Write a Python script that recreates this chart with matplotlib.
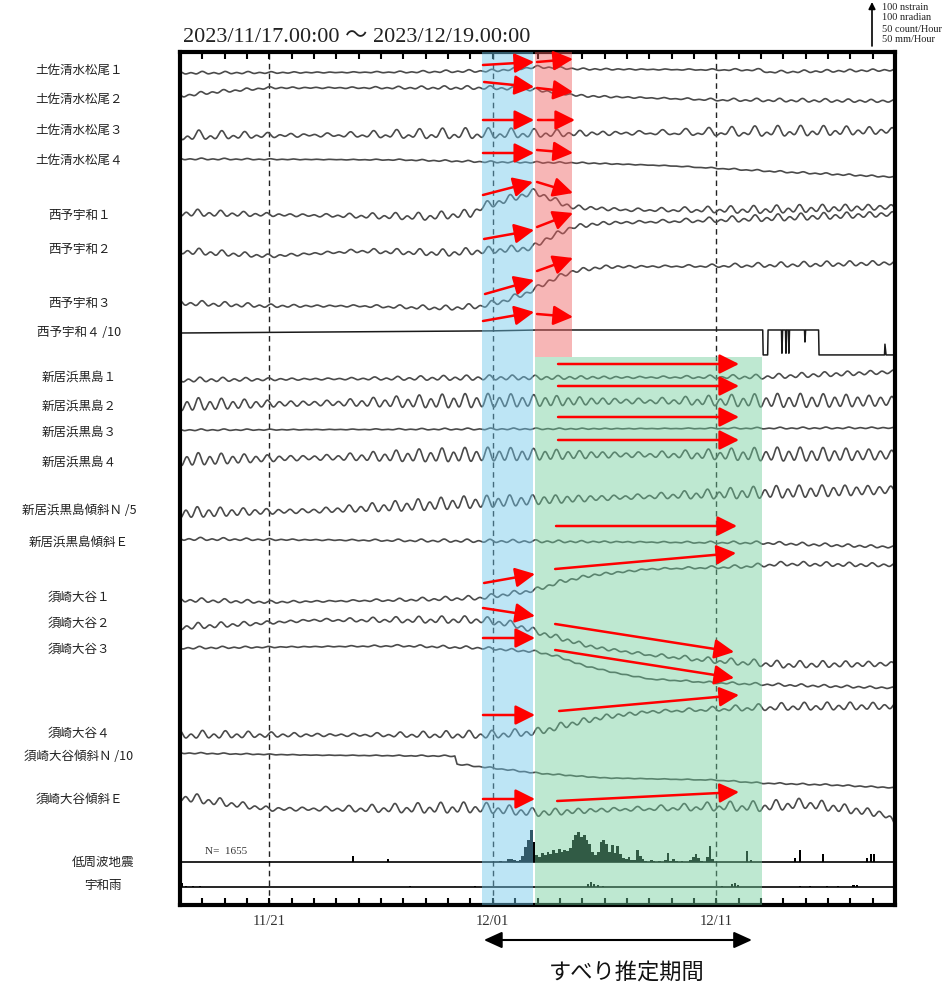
import numpy as np
import matplotlib.pyplot as plt

W, H = 946, 989
NS_PER_PX = 100 / 43      # scale bar: 100 nstrain ~ 43 px
PX_PER_COUNT = 43 / 50    # 50 count/Hour (and 50 mm/Hour) ~ 43 px

SANS = ["Noto Sans CJK JP", "DejaVu Sans"]
SERIF = ["Liberation Serif", "Noto Sans CJK JP"]

# ---- station labels ---------------------------------------------------------
LABELS = ["土佐清水松尾１", "土佐清水松尾２", "土佐清水松尾３", "土佐清水松尾４",
          "西予宇和１", "西予宇和２", "西予宇和３", "西予宇和４ /10",
          "新居浜黒島１", "新居浜黒島２", "新居浜黒島３", "新居浜黒島４",
          "新居浜黒島傾斜Ｎ /5", "新居浜黒島傾斜Ｅ",
          "須崎大谷１", "須崎大谷２", "須崎大谷３", "須崎大谷４",
          "須崎大谷傾斜Ｎ /10", "須崎大谷傾斜Ｅ"]

# ---- trend of each record (days since 2023/11/17 00:00, change in nstrain) --
MATSUO1_T = [0, 10, 14, 16, 18, 26, 26.3, 32]
MATSUO1_V = [0, 2, 5, 14, 9, 7, 2, 7]
MATSUO2_T = [0, 1.5, 4, 14, 16, 18, 24, 32]
MATSUO2_V = [0, 9, 19, 19, 14, 0, -9, -12]
MATSUO3_T = [0, 16, 32]
MATSUO3_V = [0, 5, 12]
MATSUO4_T = [0, 10, 14, 18, 22, 27, 32]
MATSUO4_V = [0, -2, -7, -9, -16, -30, -42]
SEIYO1_T = [0, 5, 11, 13, 13.5, 14.9, 15.9, 16.5, 17.5, 20, 26, 32]
SEIYO1_V = [0, -5, -9, -2, 14, 35, 49, 35, 14, 7, 7, 14]
SEIYO2_T = [0, 4, 8, 12, 13.5, 15.8, 16.2, 17, 17.6, 19, 24, 32]
SEIYO2_V = [0, -12, 0, -5, 0, 7, 23, 42, 56, 65, 72, 86]
SEIYO3_T = [0, 4, 8, 12, 13.5, 14.5, 15.5, 16, 16.5, 17.6, 19, 24, 32]
SEIYO3_V = [0, -7, -7, -12, -7, 5, 23, 35, 51, 74, 84, 86, 93]
SEIYO4_T = [0, 14, 16, 26.08, 26.1, 26.3, 26.32, 26.92, 26.94, 26.97, 27.1, 27.12,
            27.15, 27.23, 27.25, 27.28, 27.95, 27.97, 28.0, 28.58, 28.6, 31.53,
            31.55, 31.6, 32]
SEIYO4_V = [0, 5, 7, 7, -51, -51, 7, 7, -47, 7, 7, -47, 7, 7, -47, 7, 7, -21, 7, 7,
            -51, -51, -26, -51, -51]
NIIHAMA1_T = [0, 14, 26, 32]
NIIHAMA1_V = [0, 5, 7, 19]
NIIHAMA2_T = [0, 14, 32]
NIIHAMA2_V = [0, 9, 9]
NIIHAMA3_T = [0, 32]
NIIHAMA3_V = [0, 5]
NIIHAMA4_T = [0, 14, 32]
NIIHAMA4_V = [0, 12, 12]
NIIHAMA_TN_T = [0, 6, 12.6, 16, 26, 32]
NIIHAMA_TN_V = [0, 5, 23, 30, 47, 54]
NIIHAMA_TE_T = [0, 14, 26, 32]
NIIHAMA_TE_V = [0, -5, -9, -19]
SUSAKI1_T = [0, 4, 10, 13.5, 15.9, 17, 18.5, 21, 25, 27, 32]
SUSAKI1_V = [0, -5, 0, 5, 23, 42, 58, 72, 77, 84, 81]
SUSAKI2_T = [0, 3, 6, 13.5, 15, 16, 17, 18.5, 21, 24, 27, 32]
SUSAKI2_V = [0, 7, 16, 16, 5, -12, -26, -47, -65, -79, -88, -86]
SUSAKI3_T = [0, 10, 13.5, 16, 17, 18, 19.5, 21, 24, 27, 32]
SUSAKI3_V = [0, 5, 0, -9, -21, -40, -58, -72, -81, -86, -93]
SUSAKI4_T = [0, 10, 14, 16, 17.5, 19, 21, 24, 27, 32]
SUSAKI4_V = [0, 0, 0, 7, 26, 42, 54, 60, 65, 67]
SUSAKI_TN_T = [0, 6, 12.3, 12.4, 14, 16, 19, 24, 26, 29, 32]
SUSAKI_TN_V = [0, -5, -7, -26, -35, -47, -58, -63, -70, -74, -81]
SUSAKI_TE_T = [0, 2, 4, 8, 13.5, 16, 19, 24, 26, 28, 29.5, 31.5, 32]
SUSAKI_TE_V = [0, -14, -28, -28, -26, -37, -30, -23, -23, -16, -26, -40, -60]

# tidal amplitude (nstrain, semidiurnal part) and diurnal/semidiurnal ratio
TIDE_AMP = [1.5, 2, 5, 1, 4.5, 4, 3, 0, 3, 9, 1, 9, 8, 1.8, 2.5, 4, 1.5, 4.5, 0.8, 6]
TIDE_DIURNAL = [1, 1, 1.6, 1, 1, 1, 1, 1, 0.8, 0.6, 1, 0.6, 0.6, 1, 1, 1, 1, 1, 1, 1]
TIDE_PHASE = [0.3, 1.1, 2.0, 0.7, 2.6, 1.9, 0.4, 0, 1.5, 2.2, 0.9, 2.3, 2.8, 1.2,
              0.6, 2.4, 1.7, 0.2, 1.0, 2.9]

# ---- low frequency tremor (count/Hour, 3 h bins from day 14.28) and rain ----
LFE_START = 14.28
LFE_BIN = 0.125
LFE_COUNTS = [1, 0, 0, 3, 3, 2, 1, 2, 7, 17, 26, 37, 23, 8, 6, 10, 8, 12, 9, 14, 10,
              15, 12, 14, 13, 16, 26, 31, 35, 29, 31, 26, 21, 12, 8, 12, 23, 26, 21,
              12, 20, 10, 19, 9, 5, 3, 6, 2, 2, 14, 7, 3, 1, 0, 2, 1, 0, 1, 0, 2, 10,
              1, 3, 1, 0, 1, 0, 0, 2, 6, 9, 5, 1, 0, 6, 19, 3]
LFE_OTHER_DAYS = [7.74, 9.31, 25.38, 25.56, 27.53, 27.76, 28.78, 30.75, 30.93, 31.07]
LFE_OTHER_COUNTS = [7, 3, 13, 2, 5, 14, 9, 5, 9, 9]
RAIN_DAYS = [0.09, 0.27, 0.58, 0.9, 10.3, 13.2, 18.26, 18.4, 18.53, 18.71, 18.93,
             24.26, 24.71, 24.84, 24.98, 27.75, 28.2, 28.96, 29.45, 30.13, 30.3]
RAIN_MM = [5, 1, 1, 1, 1, 1, 3.5, 6, 3.5, 2, 1, 1, 3.5, 4.5, 2, 1, 1, 1, 1, 2, 2]

# ---- periods (days since 11/17) -------------------------------------------
BLUE_SPAN = (13.5, 15.8)
RED_SPAN = (15.9, 17.55)
GREEN_SPAN = (15.9, 26.05)
SLIP_PERIOD = (13.6, 25.6)
DATE_TICKS = [4, 14, 24]
DATE_LABELS = ["11/21", "12/01", "12/11"]

# red arrows: (day0, y0, day1, y1) on the record panel
ARROWS = [(13.56, 65, 15.85, 62), (15.98, 62, 17.59, 59),
          (13.61, 82, 15.85, 87), (15.98, 88, 17.59, 92),
          (13.56, 120, 15.85, 120), (16.02, 120, 17.68, 120),
          (13.56, 153, 15.85, 153), (15.98, 150, 17.59, 153),
          (13.56, 195, 15.80, 182), (15.98, 182, 17.59, 193),
          (13.61, 239, 15.85, 230), (15.98, 227, 17.59, 213),
          (13.65, 294, 15.85, 280), (15.98, 271, 17.59, 258),
          (13.56, 321, 15.85, 312), (15.98, 314, 17.59, 317),
          (16.92, 364, 25.02, 364), (16.92, 386, 25.02, 386),
          (16.92, 417, 25.02, 417), (16.92, 440, 25.02, 440),
          (16.83, 526, 24.93, 526), (16.79, 569, 24.89, 553),
          (13.61, 583, 15.89, 574), (13.56, 608, 15.89, 616),
          (16.79, 624, 24.80, 652), (13.56, 638, 15.89, 638),
          (16.79, 650, 24.80, 678), (13.56, 715, 15.89, 715),
          (16.97, 711, 25.02, 695), (13.56, 799, 15.89, 799),
          (16.88, 801, 25.02, 792)]

TRENDS = [(MATSUO1_T, MATSUO1_V), (MATSUO2_T, MATSUO2_V), (MATSUO3_T, MATSUO3_V),
          (MATSUO4_T, MATSUO4_V), (SEIYO1_T, SEIYO1_V), (SEIYO2_T, SEIYO2_V),
          (SEIYO3_T, SEIYO3_V), (SEIYO4_T, SEIYO4_V), (NIIHAMA1_T, NIIHAMA1_V),
          (NIIHAMA2_T, NIIHAMA2_V), (NIIHAMA3_T, NIIHAMA3_V), (NIIHAMA4_T, NIIHAMA4_V),
          (NIIHAMA_TN_T, NIIHAMA_TN_V), (NIIHAMA_TE_T, NIIHAMA_TE_V),
          (SUSAKI1_T, SUSAKI1_V), (SUSAKI2_T, SUSAKI2_V), (SUSAKI3_T, SUSAKI3_V),
          (SUSAKI4_T, SUSAKI4_V), (SUSAKI_TN_T, SUSAKI_TN_V), (SUSAKI_TE_T, SUSAKI_TE_V)]

# layout (pixel rows of the panel)
LABEL_Y = [70, 99, 130, 160, 215, 250, 303, 332, 377, 406, 432, 462, 511, 542,
           597, 623, 649, 733, 757, 799]
TRACE_Y0 = [73, 96, 136, 159, 213, 251, 303, 333, 380, 405, 430, 460, 513, 539,
            600, 627, 648, 735, 753, 797]
LFE_BASE, RAIN_BASE = 862, 887


def tide(t, amp, diurnal, phase):
    semi = np.cos(2 * np.pi * t / 0.5175 + phase) + 0.46 * np.cos(2 * np.pi * t / 0.5 + 1.3 * phase)
    day = 0.58 * np.cos(2 * np.pi * t / 0.9973 + 0.7 * phase) + 0.41 * np.cos(2 * np.pi * t / 1.0758 + 0.4 * phase)
    return amp * (semi + diurnal * day)


fig = plt.figure(figsize=(W / 100, H / 100), dpi=100)
ax = fig.add_axes([180 / W, 1 - 905 / H, 715 / W, 853 / H])
ax.set_xlim(0, 32)
ax.set_ylim(905, 52)

t = np.linspace(0, 32, 3201)
for i, (tt, vv) in enumerate(TRENDS):
    if TIDE_AMP[i] > 0:
        v = np.interp(t, tt, vv) + tide(t, TIDE_AMP[i], TIDE_DIURNAL[i], TIDE_PHASE[i])
        ax.plot(t, TRACE_Y0[i] - v / NS_PER_PX, color="#4a4a4a", lw=1.2, zorder=2)
    else:
        ax.plot(tt, TRACE_Y0[i] - np.array(vv) / NS_PER_PX, color="#1a1a1a", lw=1.1, zorder=2)

# tremor and rain histograms
lfe_days = LFE_START + LFE_BIN * np.arange(len(LFE_COUNTS))
ax.bar(lfe_days, -np.array(LFE_COUNTS) * PX_PER_COUNT, width=LFE_BIN, bottom=LFE_BASE,
       align="edge", color="black", lw=0, zorder=2)
ax.bar(LFE_OTHER_DAYS, -np.array(LFE_OTHER_COUNTS) * PX_PER_COUNT, width=0.07,
       bottom=LFE_BASE, color="black", lw=0, zorder=2)
ax.bar(RAIN_DAYS, -np.array(RAIN_MM) * PX_PER_COUNT, width=0.12, bottom=RAIN_BASE,
       color="black", lw=0, zorder=2)
ax.axhline(LFE_BASE, color="black", lw=1.2, zorder=2)
ax.axhline(RAIN_BASE, color="black", lw=1.2, zorder=2)
ax.text(1.1, 852, "N=  1655", family=SERIF, fontsize=8, va="center", color="#333")

for d in DATE_TICKS:
    ax.axvline(d, color="#222", lw=1.0, ls=(0, (4, 3)), zorder=1.5)

# period shading
red_frac = (905 - 357) / 853
ax.axvspan(*BLUE_SPAN, color="#6ec6ea", alpha=0.45, lw=0, zorder=3)
ax.axvspan(*RED_SPAN, ymin=red_frac, ymax=1, color="#ef5d5d", alpha=0.45, lw=0, zorder=3)
ax.axvspan(*GREEN_SPAN, ymin=0, ymax=red_frac, color="#6fcc9b", alpha=0.45, lw=0, zorder=3)

for x0, y0, x1, y1 in ARROWS:
    ax.annotate("", xy=(x1, y1), xytext=(x0, y0),
                arrowprops=dict(arrowstyle="-|>,head_length=1.2,head_width=0.6",
                                color="red", lw=1.8, shrinkA=0, shrinkB=0), zorder=5)

# axes frame and ticks
for s in ax.spines.values():
    s.set_linewidth(3)
ax.set_yticks([])
ax.set_xticks(DATE_TICKS, DATE_LABELS)
ax.set_xticks(range(33), minor=True)
ax.tick_params(axis="x", which="both", direction="in", length=5, width=1.5,
               top=True, bottom=True, pad=7, labelsize=10.5)
for lab in ax.get_xticklabels():
    lab.set_family(SERIF)
    lab.set_color("#333")

# station labels
for lab, y in zip(LABELS, LABEL_Y):
    fig.text(79 / W, 1 - y / H, lab, family=SANS, fontsize=9, ha="center", va="center", color="#222")
fig.text(103 / W, 1 - 862 / H, "低周波地震", family=SANS, fontsize=9, ha="center", va="center", color="#222")
fig.text(103 / W, 1 - 886 / H, "宇和雨", family=SANS, fontsize=9, ha="center", va="center", color="#222")

fig.text(183 / W, 1 - 37 / H, "2023/11/17.00:00 ～ 2023/12/19.00:00", family=SERIF,
         fontsize=16, va="center", color="#222")

# scale bar
ax.annotate("", xy=(872, H - 2), xytext=(872, H - 46), xycoords="figure pixels",
            arrowprops=dict(arrowstyle="-|>,head_length=0.4,head_width=0.2", color="black",
                            lw=1.2, shrinkA=0, shrinkB=0))
for k, s in enumerate(["100 nstrain", "100 nradian", "50 count/Hour", "50 mm/Hour"]):
    fig.text(882 / W, 1 - (7 + 11 * k) / H, s, family=SERIF, fontsize=7.5, va="center", color="#222")

# estimated slip period
ax.annotate("", xy=(SLIP_PERIOD[1], 940), xytext=(SLIP_PERIOD[0], 940), annotation_clip=False,
            arrowprops=dict(arrowstyle="<|-|>,head_length=1.1,head_width=0.5", color="black",
                            lw=1.5, shrinkA=0, shrinkB=0))
ax.text(sum(SLIP_PERIOD) / 2 + 0.4, 972, "すべり推定期間", family=SANS, fontsize=16,
        ha="center", va="center", color="#111", clip_on=False)

fig.savefig("out.png", dpi=100)
